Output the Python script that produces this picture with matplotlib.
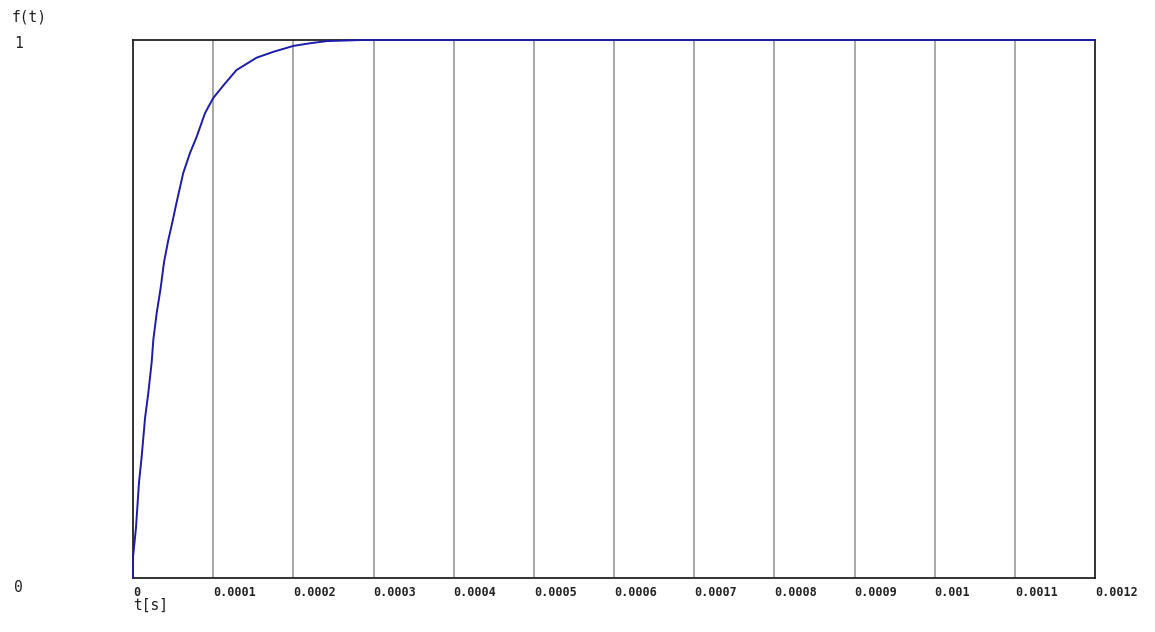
import matplotlib
matplotlib.use('Agg')
import matplotlib.pyplot as plt
import numpy as np

# step response
t_vals = [0, 0.0000001, 3.7e-6, 7.5e-6, 1.08e-5, 1.50e-5, 1.91e-5, 2.33e-5, 2.53e-5,
          2.96e-5, 3.45e-5, 3.87e-5, 4.40e-5, 4.83e-5, 5.45e-5, 6.27e-5, 7.11e-5,
          7.94e-5, 8.98e-5, 1.00e-4, 1.13e-4, 1.29e-4, 1.54e-4, 1.75e-4, 2.00e-4,
          2.21e-4, 2.42e-4, 2.87e-4, 0.0012]
f_vals = [0, 0.04, 0.093, 0.178, 0.225, 0.297, 0.344, 0.401, 0.442,
          0.493, 0.539, 0.587, 0.628, 0.656, 0.699, 0.753, 0.790,
          0.820, 0.864, 0.892, 0.916, 0.944, 0.967, 0.978, 0.989,
          0.994, 0.998, 1.0, 1.0]

x_ticks = [0, 0.0001, 0.0002, 0.0003, 0.0004, 0.0005, 0.0006, 0.0007, 0.0008,
           0.0009, 0.001, 0.0011, 0.0012]
x_labels = ['0', '0.0001', '0.0002', '0.0003', '0.0004', '0.0005', '0.0006',
            '0.0007', '0.0008', '0.0009', '0.001', '0.0011', '0.0012']

mono = 'DejaVu Sans Mono'

fig = plt.figure(figsize=(11.55, 6.32), dpi=100)
ax = fig.add_axes([133 / 1155, 54 / 632, 962 / 1155, 538 / 632])

# vertical grid lines
for xt in x_ticks[1:-1]:
    ax.axvline(xt, color='#8f8f8f', lw=1.1, zorder=1)

ax.plot(t_vals, f_vals, color='#1c1ca8', lw=1.4, zorder=3, clip_on=False)

ax.set_xlim(0, 0.0012)
ax.set_ylim(0, 1)
for s in ax.spines.values():
    s.set_color('#222222')
    s.set_linewidth(1.3)
    s.set_zorder(2)

ax.set_xticks(x_ticks)
ax.set_xticklabels(x_labels, fontsize=8.5, family=mono, fontweight='bold',
                   ha='left', color='#222222')
ax.set_yticks([])
ax.tick_params(axis='x', length=0, pad=6)

fig.text(12 / 1155, 1 - 17 / 632, 'f(t)', family=mono, fontsize=10.5,
         va='center', ha='left', color='#222222')
fig.text(14 / 1155, 1 - 44 / 632, '1', family=mono, fontsize=10.5,
         va='center', ha='left', color='#222222')
fig.text(14 / 1155, 1 - 588 / 632, '0', family=mono, fontsize=10.5,
         va='center', ha='left', color='#222222')
fig.text(133 / 1155, 1 - 605 / 632, 't[s]', family=mono, fontsize=10.5,
         va='center', ha='left', color='#222222')

fig.savefig('out.png', dpi=100, facecolor='white')
